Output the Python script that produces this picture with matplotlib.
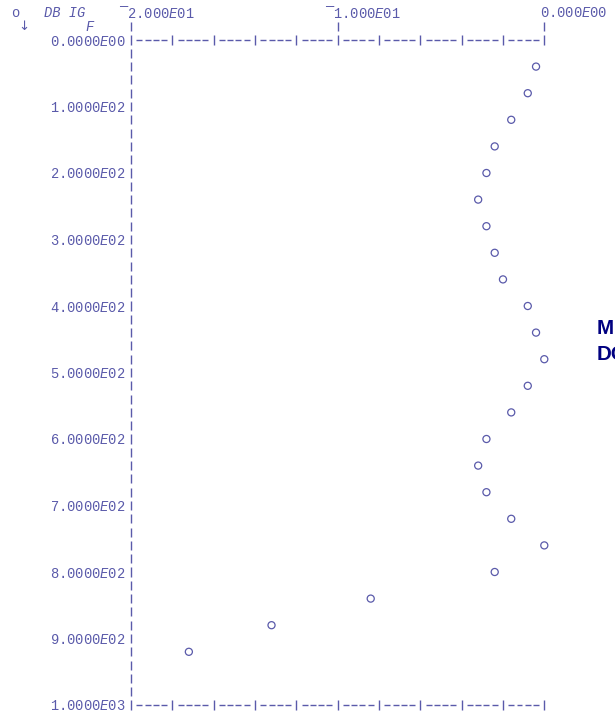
import numpy as np
import matplotlib
matplotlib.use("Agg")
import matplotlib.pyplot as plt

# frequency (rows) and gain in dB (columns)
freq = [40, 80, 120, 160, 200, 240, 280, 320, 360, 400, 440, 480,
        520, 560, 600, 640, 680, 720, 760, 800, 840, 880, 920]
db_gain = [-0.4, -0.8, -1.6, -2.4, -2.8, -3.2, -2.8, -2.4, -2.0, -0.8, -0.4, 0.0,
           -0.8, -1.6, -2.8, -3.2, -2.8, -1.6, 0.0, -2.4, -8.4, -13.2, -17.2]

x_ticks = [-20, -10, 0]
x_tick_labels = ["¯2.000$\\mathit{E}$01", "¯1.000$\\mathit{E}$01", "0.000$\\mathit{E}$00"]
y_ticks = [0, 100, 200, 300, 400, 500, 600, 700, 800, 900, 1000]
y_tick_labels = ["0.0000$\\mathit{E}$00", "1.0000$\\mathit{E}$02", "2.0000$\\mathit{E}$02",
                 "3.0000$\\mathit{E}$02", "4.0000$\\mathit{E}$02", "5.0000$\\mathit{E}$02",
                 "6.0000$\\mathit{E}$02", "7.0000$\\mathit{E}$02", "8.0000$\\mathit{E}$02",
                 "9.0000$\\mathit{E}$02", "1.0000$\\mathit{E}$03"]

INK = "#5a5aaa"
plt.rcParams["font.family"] = ["Liberation Mono", "DejaVu Sans Mono"]
plt.rcParams["mathtext.fontset"] = "custom"
plt.rcParams["mathtext.rm"] = "Liberation Mono"
plt.rcParams["mathtext.it"] = "Liberation Mono:italic"
plt.rcParams["font.size"] = 9.9

fig = plt.figure(figsize=(6.15, 7.13), dpi=100)
ax = fig.add_axes([131 / 615, 8 / 713, 413.3 / 615, 665 / 713])
ax.set_xlim(-20, 0)
ax.set_ylim(1000, 0)
for s in ax.spines.values():
    s.set_visible(False)
ax.set_xticks([])
ax.set_yticks(y_ticks, y_tick_labels)
ax.tick_params(axis="y", length=0, pad=4, colors=INK)

# character grid: 0.4 units per column, 20 units per row
col = 0.4
row = 20
lw = 1.0

# vertical axis made of "|" at every row
rows = np.arange(0, 51) * row
ax.vlines([-20] * len(rows), rows - 6.8, rows + 6.8, color=INK, lw=lw, clip_on=False)

# top and bottom "----|----|" lines
for yy in (0, 1000):
    for c in range(1, 51):
        xc = -20 + c * col
        if c % 5 == 0:
            ax.vlines(xc, yy - 6.8, yy + 6.8, color=INK, lw=lw, clip_on=False)
        else:
            ax.hlines(yy, xc - 0.145, xc + 0.145, color=INK, lw=lw, clip_on=False)

# tick marks above the top line and their labels
for xt, lab in zip(x_ticks, x_tick_labels):
    ax.vlines(xt, -row - 6.8, -row + 6.8, color=INK, lw=lw, clip_on=False)
    shift = 1.5 if lab.startswith("¯") else 0.5
    ax.text(xt - shift * col, -2 * row, lab, color=INK, ha="left", va="center",
            clip_on=False)

# legend glyphs and variable names
ax.text(-20 - 14 * col, -2 * row, "o", color=INK, ha="center", va="center", clip_on=False)
ax.text(-20 - 13 * col, -row, "↓", color=INK, ha="center", va="center", clip_on=False,
        family=["DejaVu Sans"], fontsize=9.5)
ax.text(-20 - 10.5 * col, -2 * row, "DB IG", color=INK, ha="left", va="center",
        style="italic", clip_on=False)
ax.text(-20 - 5 * col, -row, "F", color=INK, ha="center", va="center",
        style="italic", clip_on=False)

ax.scatter(db_gain, freq, s=26, facecolors="none", edgecolors=INK, linewidths=0.9,
           clip_on=False, zorder=3)

fig.text(597 / 615, 1 - 329 / 713, "M", color="#000080", family="Liberation Sans",
         weight="bold", fontsize=14.8, ha="left", va="center")
fig.text(597 / 615, 1 - 354 / 713, "DO", color="#000080", family="Liberation Sans",
         weight="bold", fontsize=14.8, ha="left", va="center")

fig.savefig("out.png", dpi=100)
